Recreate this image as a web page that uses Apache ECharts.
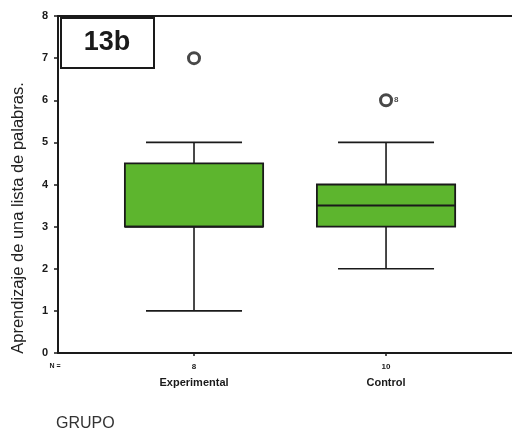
<!DOCTYPE html>
<html>
<head>
<meta charset="utf-8">
<script src="https://cdn.jsdelivr.net/npm/echarts@6/dist/echarts.min.js"></script>
<style>
html,body{margin:0;padding:0;background:#fff;}
#chart{width:512px;height:431px;}
</style>
</head>
<body>
<div id="chart"></div>
<script>
// ---- data ----
const categories = ['Experimental', 'Control'];
const nValues = [8, 10];
// [min whisker, Q1, median, Q3, max whisker]
const boxStats = [
  [1, 3, 3, 4.5, 5],
  [2, 3, 3.5, 4, 5]
];
// outliers: [category index, value, case label]
const outliers = [
  [0, 7, ''],
  [1, 6, '8']
];
const yTicks = [0, 1, 2, 3, 4, 5, 6, 7, 8];
const panelLabel = '13b';
const yTitle = 'Aprendizaje de una lista de palabras.';
const xTitle = 'GRUPO';

// ---- build ----
const chart = echarts.init(document.getElementById('chart'));
const catPos = categories.map((c, i) => i + 1);
const boxData = boxStats.map((s, i) => [catPos[i]].concat(s));
const outlierData = outliers.map(o => ({ value: [catPos[o[0]], o[1]], caseLabel: o[2] }));

const BOX_W = 0.72, CAP_W = 0.5;
const GREEN = '#5db52e';
const INK = '#1a1a1a';

function renderBox(params, api) {
  const x = api.value(0);
  const pMin = api.coord([x, api.value(1)]);
  const pQ1 = api.coord([x, api.value(2)]);
  const pMed = api.coord([x, api.value(3)]);
  const pQ3 = api.coord([x, api.value(4)]);
  const pMax = api.coord([x, api.value(5)]);
  const bw = api.size([BOX_W, 0])[0];
  const cw = api.size([CAP_W, 0])[0];
  const cx = pQ1[0];
  const ls = { stroke: INK, lineWidth: 1.6 };
  return {
    type: 'group',
    children: [
      { type: 'line', shape: { x1: cx, y1: pMax[1], x2: cx, y2: pQ3[1] }, style: ls },
      { type: 'line', shape: { x1: cx, y1: pQ1[1], x2: cx, y2: pMin[1] }, style: ls },
      { type: 'line', shape: { x1: cx - cw / 2, y1: pMax[1], x2: cx + cw / 2, y2: pMax[1] }, style: ls },
      { type: 'line', shape: { x1: cx - cw / 2, y1: pMin[1], x2: cx + cw / 2, y2: pMin[1] }, style: ls },
      { type: 'rect', shape: { x: cx - bw / 2, y: pQ3[1], width: bw, height: pQ1[1] - pQ3[1] },
        style: { fill: GREEN, stroke: INK, lineWidth: 1.8 } },
      { type: 'line', shape: { x1: cx - bw / 2, y1: pMed[1], x2: cx + bw / 2, y2: pMed[1] },
        style: { stroke: INK, lineWidth: 2 } }
    ]
  };
}

const option = {
  backgroundColor: '#fff',
  animation: false,
  grid: { left: 58, top: 16, right: 0, bottom: 78, containLabel: false },
  xAxis: [{
    type: 'value',
    min: 0.2917,
    max: 2.656,
    splitLine: { show: false },
    axisLine: { show: true, onZero: false, lineStyle: { color: INK, width: 2 } },
    axisTick: { show: true, customValues: catPos, length: 3, lineStyle: { color: INK, width: 1.5 } },
    axisLabel: {
      show: true,
      customValues: catPos,
      margin: 6,
      formatter: v => {
        const i = catPos.indexOf(Math.round(v));
        return i < 0 ? '' : '{n|' + nValues[i] + '}\n{c|' + categories[i] + '}';
      },
      rich: {
        n: { fontFamily: 'Liberation Sans, Arial', fontSize: 8, fontWeight: 'bold', color: INK, lineHeight: 15 },
        c: { fontFamily: 'Liberation Sans, Arial', fontSize: 11, fontWeight: 'bold', color: INK, lineHeight: 18 }
      }
    }
  }, {
    type: 'value',
    position: 'top',
    min: 0.2917,
    max: 2.656,
    splitLine: { show: false },
    axisLine: { show: true, onZero: false, lineStyle: { color: INK, width: 2 } },
    axisTick: { show: false },
    axisLabel: { show: false }
  }],
  yAxis: {
    type: 'value',
    min: 0,
    max: 8,
    interval: 1,
    splitLine: { show: false },
    axisLine: { show: true, onZero: false, lineStyle: { color: INK, width: 2 } },
    axisTick: { show: true, length: 4, lineStyle: { color: INK, width: 1.5 } },
    axisLabel: {
      margin: 10,
      fontFamily: 'Liberation Sans, Arial',
      fontSize: 11,
      fontWeight: 'bold',
      color: INK,
      formatter: v => yTicks.includes(v) ? String(v) : ''
    }
  },
  graphic: [
    { type: 'rect', left: 60, top: 17, shape: { width: 93, height: 50 },
      style: { fill: '#fff', stroke: INK, lineWidth: 2 }, z: 10 },
    { type: 'text', x: 107, y: 43, z: 11,
      style: { text: panelLabel, fontFamily: 'Liberation Sans, Arial', fontSize: 27, fontWeight: 'bold',
        fill: INK, align: 'center', verticalAlign: 'middle' } },
    { type: 'text', x: 18, y: 218, rotation: Math.PI / 2,
      style: { text: yTitle, fontFamily: 'Liberation Sans, Arial', fontSize: 16.5,
        fill: '#222', align: 'center', verticalAlign: 'middle' } },
    { type: 'text', x: 55, y: 366,
      style: { text: 'N =', fontFamily: 'Liberation Sans, Arial', fontSize: 7, fontWeight: 'bold',
        fill: INK, align: 'center', verticalAlign: 'middle' } },
    { type: 'text', x: 56, y: 424,
      style: { text: xTitle, fontFamily: 'Liberation Sans, Arial', fontSize: 16,
        fill: '#333', align: 'left', verticalAlign: 'middle' } }
  ],
  series: [{
    type: 'custom',
    xAxisIndex: 0,
    renderItem: renderBox,
    encode: { x: 0, y: [1, 2, 3, 4, 5] },
    data: boxData,
    z: 2
  }, {
    type: 'scatter',
    xAxisIndex: 0,
    symbol: 'circle',
    symbolSize: 11,
    itemStyle: { color: '#fff', borderColor: INK, borderWidth: 3 },
    label: {
      show: true,
      position: 'right',
      distance: 1,
      fontFamily: 'Liberation Sans, Arial',
      fontSize: 8,
      fontWeight: 'bold',
      color: INK,
      formatter: p => p.data.caseLabel
    },
    data: outlierData,
    z: 3
  }]
};
chart.setOption(option);
</script>
</body>
</html>
